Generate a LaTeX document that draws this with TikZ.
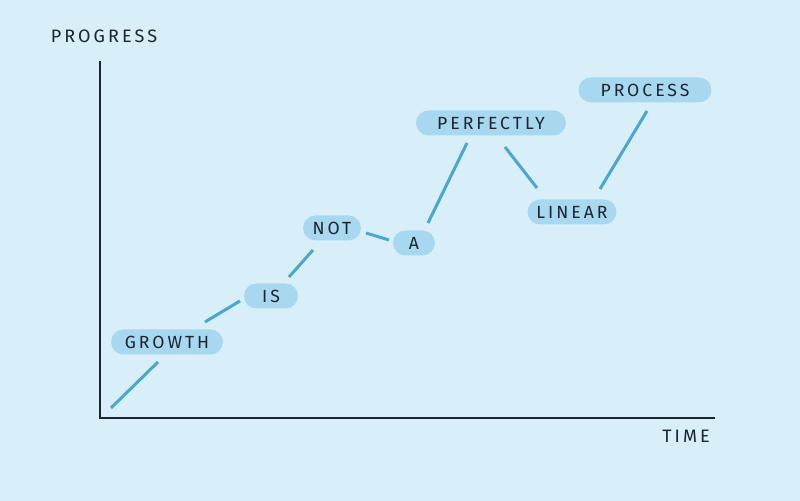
\documentclass[tikz,border=0pt]{standalone}
\usepackage{fontspec}
\newfontfamily\lab[LetterSpace=17]{Fira Sans}
\definecolor{bg}{HTML}{D8EFFA}
\definecolor{pill}{HTML}{A8D8F0}
\definecolor{conn}{HTML}{4AA8D0}
\definecolor{ink}{HTML}{1A2530}
\begin{document}
\begin{tikzpicture}[x=0.5pt,y=-0.5pt,
  word/.style={fill=pill,rounded corners=6.25pt,minimum height=12.5pt,inner sep=0pt,
    text=ink,font=\lab\fontsize{8.8}{10}\selectfont},
  axislabel/.style={text=ink,inner sep=0pt,font=\lab\fontsize{9}{10}\selectfont},
  axisline/.style={draw=ink,line width=1pt},
  link/.style={draw=conn,line width=1.5pt}]
\fill[bg] (0,0) rectangle (800,501);
\useasboundingbox (0,0) rectangle (800,501);
% axes
\coordinate (top) at (100,61);
\coordinate (origin) at (100,418);
\coordinate (right) at (715,418);
\draw[axisline] (top) -- (origin) -- (right);
\node[axislabel] (prog) at (104,36) {PROGRESS};
\node[axislabel] (time) at (686,436) {TIME};
% words
\node[word,minimum width=56pt] (growth) at (167,342) {GROWTH};
\node[word,minimum width=27pt] (is) at (271,296) {IS};
\node[word,minimum width=29pt] (not) at (332,228) {NOT};
\node[word,minimum width=21pt] (a) at (414,243) {A};
\node[word,minimum width=75pt] (perf) at (491,123) {PERFECTLY};
\node[word,minimum width=44.5pt] (lin) at (572,212) {LINEAR};
\node[word,minimum width=66.5pt] (proc) at (645,90) {PROCESS};
% connectors
\coordinate (start) at (111,408);
\draw[link] (start) -- ([shift={(-9,20)}]growth.center);
\draw[link] ([shift={(38,-20)}]growth.center) -- ([shift={(-31,5)}]is.center);
\draw[link] ([shift={(18,-19)}]is.center) -- ([shift={(-19,22)}]not.center);
\draw[link] ([shift={(34,5)}]not.center) -- ([shift={(-25,-3)}]a.center);
\draw[link] ([shift={(14,-20)}]a.center) -- ([shift={(-24,20)}]perf.center);
\draw[link] ([shift={(14,24)}]perf.center) -- ([shift={(-35,-24)}]lin.center);
\draw[link] ([shift={(28,-23)}]lin.center) -- ([shift={(2,21)}]proc.center);
\end{tikzpicture}
\end{document}
